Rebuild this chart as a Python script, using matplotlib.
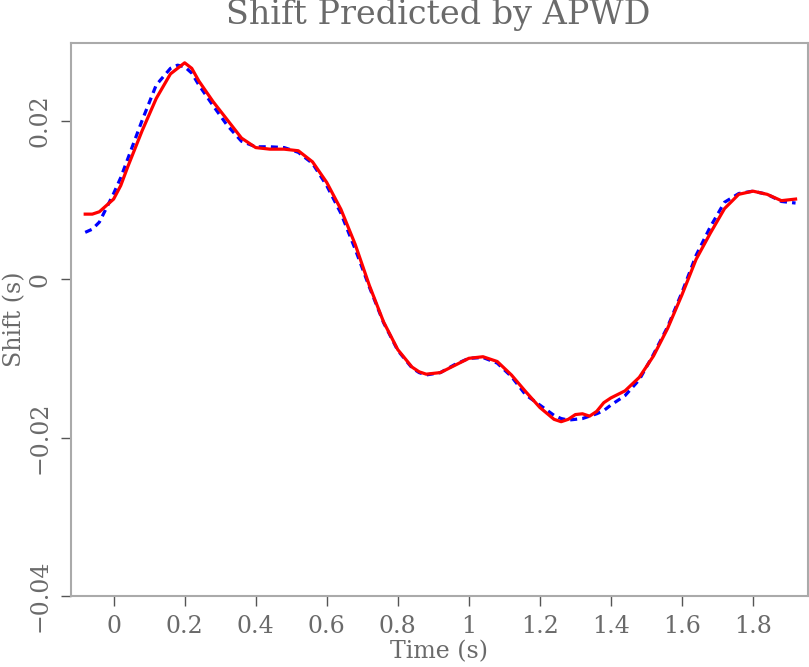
import numpy as np
import matplotlib
matplotlib.use("Agg")
import matplotlib.pyplot as plt

# ---- values ----
time_s = [-0.08, -0.06, -0.04, 0.00, 0.02, 0.04, 0.08, 0.12, 0.16, 0.18, 0.20, 0.22, 0.24,
          0.28, 0.32, 0.36, 0.40, 0.44, 0.48, 0.52, 0.56, 0.60, 0.64,
          0.68, 0.72, 0.76, 0.80, 0.84, 0.86, 0.88, 0.92, 0.96, 1.00, 1.04,
          1.08, 1.12, 1.16, 1.20, 1.24, 1.26, 1.28, 1.30, 1.32, 1.34, 1.36,
          1.38, 1.40, 1.44, 1.48, 1.52, 1.56, 1.60, 1.64, 1.68, 1.72,
          1.76, 1.80, 1.84, 1.88, 1.92]

shift_true = [0.0059, 0.0063, 0.0072, 0.0108, 0.0128, 0.0152, 0.0200, 0.0245, 0.0266, 0.0270, 0.0268, 0.0260, 0.0245,
              0.0219, 0.0194, 0.0174, 0.0167, 0.0167, 0.0166, 0.0160, 0.0146, 0.0118, 0.0083,
              0.0038, -0.0010, -0.0055, -0.0090, -0.0112, -0.0118, -0.0121, -0.0118, -0.0108, -0.0100, -0.0099,
              -0.0106, -0.0123, -0.0146, -0.0159, -0.0172, -0.0176, -0.0178, -0.0177, -0.0176, -0.0173, -0.0170,
              -0.0166, -0.0159, -0.0147, -0.0127, -0.0095, -0.0060, -0.0017, 0.0030, 0.0066, 0.0097,
              0.0108, 0.0111, 0.0107, 0.0098, 0.0096]

shift_apwd = [0.0082, 0.0082, 0.0085, 0.0101, 0.0118, 0.0142, 0.0187, 0.0228, 0.0259, 0.0266, 0.0273, 0.0266, 0.0250,
              0.0224, 0.0201, 0.0178, 0.0166, 0.0164, 0.0164, 0.0162, 0.0148, 0.0122, 0.0088,
              0.0044, -0.0008, -0.0054, -0.0089, -0.0111, -0.0117, -0.0120, -0.0118, -0.0109, -0.0100, -0.0098,
              -0.0104, -0.0121, -0.0142, -0.0162, -0.0177, -0.0180, -0.0177, -0.0171, -0.0170, -0.0173, -0.0167,
              -0.0156, -0.0150, -0.0141, -0.0124, -0.0097, -0.0062, -0.0020, 0.0025, 0.0058, 0.0089,
              0.0107, 0.0111, 0.0107, 0.0099, 0.0101]

x_ticks = [0, 0.2, 0.4, 0.6, 0.8, 1.0, 1.2, 1.4, 1.6, 1.8]
x_tick_labels = ["0", "0.2", "0.4", "0.6", "0.8", "1", "1.2", "1.4", "1.6", "1.8"]
y_ticks = [-0.04, -0.02, 0, 0.02]
y_tick_labels = ["\u22120.04", "\u22120.02", "0", "0.02"]

TXT = "#6a6a6a"
FONT = "DejaVu Serif"

fig = plt.figure(figsize=(8.09, 6.67), dpi=100)
ax = fig.add_axes([71 / 809, 1 - 596 / 667, 737 / 809, 553 / 667])

ax.plot(time_s, shift_true, color="#0000ff", lw=2.3, ls=(0, (2.2, 1.6)))
ax.plot(time_s, shift_apwd, color="#ff0000", lw=2.3, solid_joinstyle="round")

ax.set_xlim(-0.12, 1.955)
ax.set_ylim(-0.04, 0.0298)

ax.set_xticks(x_ticks)
ax.set_xticklabels(x_tick_labels)
ax.set_yticks(y_ticks)
ax.set_yticklabels(y_tick_labels, rotation=90, va="center")

for sp in ax.spines.values():
    sp.set_color("#aaaaaa")
    sp.set_linewidth(1.5)

ax.tick_params(axis="both", direction="out", length=7, width=1, color="#555555",
               labelcolor=TXT, labelsize=17)
ax.tick_params(axis="x", pad=7)
ax.tick_params(axis="y", pad=7)
for lab in ax.get_xticklabels() + ax.get_yticklabels():
    lab.set_family(FONT)

ax.text(0.5, -0.101, "Time (s)", transform=ax.transAxes, ha="center", va="center",
        fontsize=17, color=TXT, family=FONT)
ax.text(-0.076, 0.5, "Shift (s)", transform=ax.transAxes, ha="center", va="center",
        rotation=90, fontsize=17, color=TXT, family=FONT)
fig.text(438 / 809, 1 - 15 / 667, "Shift Predicted by APWD", ha="center", va="center",
         fontsize=24, color=TXT, family=FONT)

fig.savefig("out.png", dpi=100)
